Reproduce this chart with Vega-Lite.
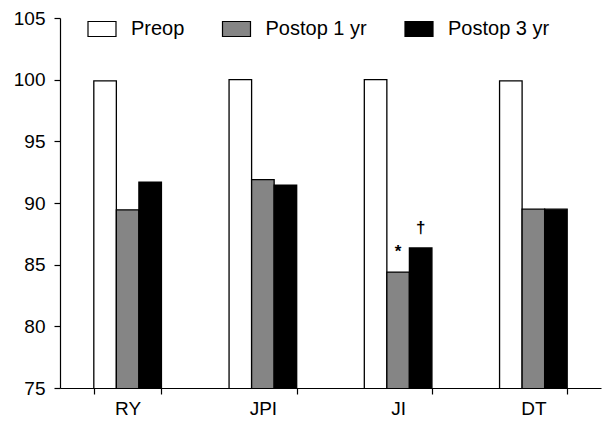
{
  "$schema": "https://vega.github.io/schema/vega-lite/v6.json",
  "autosize": "none",
  "width": 541,
  "height": 370,
  "padding": {"left": 60, "top": 18, "right": 5, "bottom": 35},
  "background": "white",
  "config": {
    "font": "Liberation Sans",
    "view": {"stroke": null},
    "axis": {"domainColor": "black", "tickColor": "black", "labelColor": "black", "labelFont": "Liberation Sans", "labelFontSize": 19, "grid": false, "domainWidth": 1.2, "tickWidth": 1.2}
  },
  "data": {
    "values": [
      {"group": "RY", "series": "Preop", "value": 99.9, "mark": ""},
      {"group": "RY", "series": "Postop 1 yr", "value": 89.45, "mark": ""},
      {"group": "RY", "series": "Postop 3 yr", "value": 91.7, "mark": ""},
      {"group": "JPI", "series": "Preop", "value": 100, "mark": ""},
      {"group": "JPI", "series": "Postop 1 yr", "value": 91.9, "mark": ""},
      {"group": "JPI", "series": "Postop 3 yr", "value": 91.45, "mark": ""},
      {"group": "JI", "series": "Preop", "value": 100, "mark": ""},
      {"group": "JI", "series": "Postop 1 yr", "value": 84.4, "mark": "*"},
      {"group": "JI", "series": "Postop 3 yr", "value": 86.35, "mark": "†"},
      {"group": "DT", "series": "Preop", "value": 99.9, "mark": ""},
      {"group": "DT", "series": "Postop 1 yr", "value": 89.5, "mark": ""},
      {"group": "DT", "series": "Postop 3 yr", "value": 89.5, "mark": ""}
    ]
  },
  "encoding": {
    "x": {
      "field": "group", "type": "nominal", "sort": ["RY", "JPI", "JI", "DT"],
      "scale": {"paddingInner": 0.5, "paddingOuter": 0.25},
      "axis": {"title": null, "labelAngle": 0, "tickBand": "extent", "tickSize": 6, "labelPadding": 5, "zindex": 1}
    },
    "xOffset": {"field": "series", "type": "nominal", "sort": ["Preop", "Postop 1 yr", "Postop 3 yr"], "scale": {"paddingInner": 0, "paddingOuter": 0}},
    "y": {
      "field": "value", "type": "quantitative",
      "scale": {"domain": [75, 105], "nice": false, "zero": false},
      "axis": {"title": null, "values": [75, 80, 85, 90, 95, 100, 105], "tickSize": 6, "labelPadding": 9, "zindex": 1}
    }
  },
  "layer": [
    {
      "mark": {"type": "bar", "stroke": "black", "strokeWidth": 1.3, "clip": true},
      "encoding": {
        "fill": {
          "field": "series", "type": "nominal",
          "sort": ["Preop", "Postop 1 yr", "Postop 3 yr"],
          "scale": {"domain": ["Preop", "Postop 1 yr", "Postop 3 yr"], "range": ["white", "#858585", "black"]},
          "legend": {
            "title": null, "orient": "none", "direction": "horizontal",
            "legendX": 27, "legendY": -4, "padding": 0,
            "symbolType": "M-1,-0.536H1V0.536H-1Z", "symbolSize": 784,
            "symbolStrokeColor": "black", "symbolStrokeWidth": 1.2,
            "labelFontSize": 20, "labelFont": "Liberation Sans", "labelColor": "black",
            "labelOffset": 14, "columnPadding": 34.5, "labelLimit": 300
          }
        }
      }
    },
    {
      "mark": {"type": "text", "baseline": "bottom", "dy": -11, "fontSize": 17, "fontWeight": "bold", "color": "black"},
      "encoding": {"text": {"field": "mark"}}
    }
  ]
}
